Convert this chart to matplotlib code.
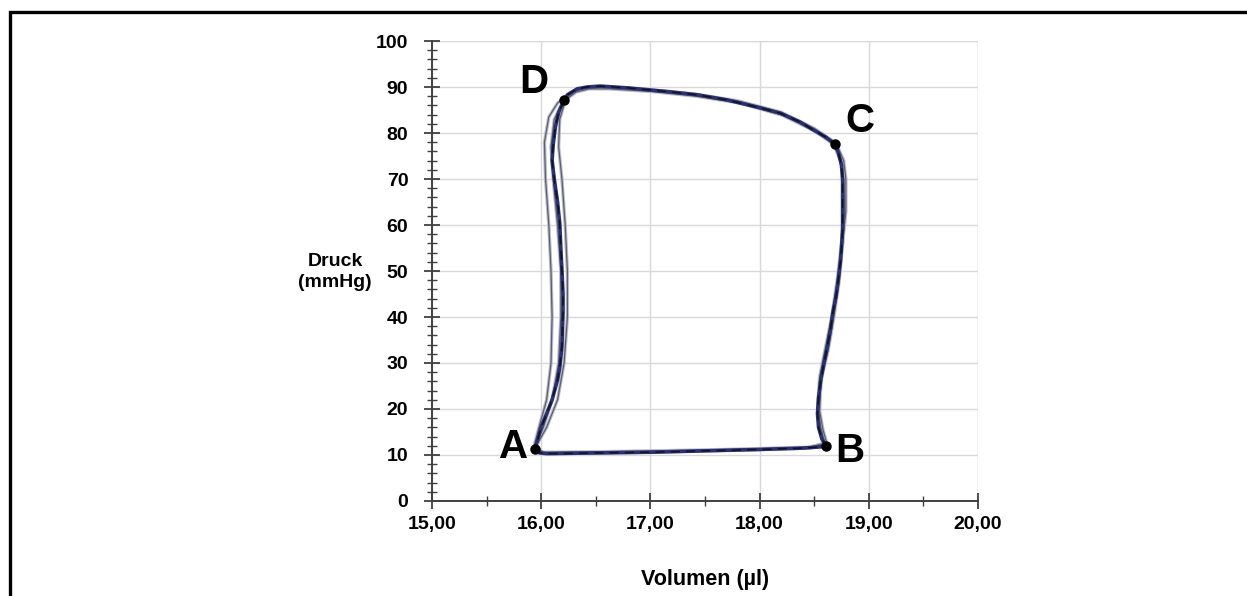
import matplotlib
matplotlib.use('Agg')
import matplotlib.pyplot as plt
from matplotlib.lines import Line2D
from matplotlib.ticker import MultipleLocator

plt.rcParams['font.family'] = ['Liberation Sans', 'DejaVu Sans']

# averaged loop (A -> B -> C -> D -> A)
mean_vol = [15.94, 15.98, 16.05, 16.50, 17.00, 17.50, 18.00, 18.40, 18.58, 18.61,
            18.57, 18.54, 18.53, 18.54, 18.56, 18.59, 18.62, 18.65, 18.67, 18.70,
            18.72, 18.74, 18.75, 18.76, 18.76, 18.76, 18.76, 18.75, 18.72, 18.69,
            18.60, 18.49, 18.37, 18.19, 18.00, 17.70, 17.43, 17.20, 17.02, 16.80,
            16.54, 16.42, 16.33, 16.24, 16.21, 16.16, 16.13, 16.11, 16.10, 16.12,
            16.15, 16.17, 16.18, 16.19, 16.20, 16.20, 16.19, 16.17, 16.15, 16.10,
            16.05, 16.00, 15.97, 15.94]
mean_p = [11.3, 10.5, 10.3, 10.45, 10.6, 10.9, 11.2, 11.5, 11.8, 12.0,
          13.5, 16.0, 19.0, 22.5, 26.3, 30.0, 33.5, 37.5, 40.9, 44.5,
          48.0, 52.0, 55.2, 59.0, 62.6, 66.5, 69.8, 73.0, 75.8, 77.6,
          79.2, 80.7, 82.4, 84.3, 85.5, 87.2, 88.3, 88.9, 89.3, 89.8,
          90.2, 90.0, 89.6, 88.3, 87.2, 84.5, 81.3, 77.5, 74.1, 70.0,
          65.0, 60.4, 55.0, 50.2, 45.0, 40.9, 33.5, 29.0, 26.3, 22.0,
          19.0, 16.1, 13.5, 11.3]

# single cycles
cyc1_vol = [15.93, 16.00, 16.50, 17.00, 17.50, 18.00, 18.45, 18.58, 18.55, 18.53,
            18.55, 18.60, 18.66, 18.71, 18.75, 18.77, 18.77, 18.74, 18.68, 18.50,
            18.20, 17.80, 17.40, 17.00, 16.60, 16.40, 16.27, 16.15, 16.07, 16.03,
            16.04, 16.07, 16.09, 16.10, 16.09, 16.05, 15.98, 15.93]
cyc1_p = [11.5, 10.4, 10.5, 10.7, 11.0, 11.3, 11.6, 12.5, 16.0, 20.0,
          27.0, 33.0, 40.0, 48.0, 56.0, 63.0, 70.0, 74.0, 77.5, 80.5,
          84.0, 86.8, 88.2, 89.2, 89.9, 89.8, 88.8, 86.5, 83.5, 78.0,
          70.0, 60.0, 50.0, 40.0, 30.0, 22.0, 16.0, 11.5]

cyc2_vol = [15.95, 16.02, 16.50, 17.00, 17.50, 18.00, 18.45, 18.60, 18.56, 18.54,
            18.57, 18.63, 18.68, 18.73, 18.76, 18.78, 18.77, 18.75, 18.70, 18.50,
            18.20, 17.80, 17.40, 17.00, 16.60, 16.42, 16.30, 16.22, 16.17, 16.16,
            16.19, 16.22, 16.24, 16.24, 16.21, 16.15, 16.05, 15.95]
cyc2_p = [11.8, 10.6, 10.7, 10.9, 11.1, 11.4, 11.7, 12.4, 16.0, 20.0,
          27.0, 33.0, 40.0, 48.0, 56.0, 63.0, 70.0, 74.0, 77.8, 81.0,
          84.5, 87.0, 88.5, 89.4, 90.0, 89.9, 89.0, 87.0, 83.0, 77.0,
          70.0, 60.0, 50.0, 40.0, 30.0, 22.0, 16.0, 11.8]

cyc3_vol = [15.94, 16.00, 16.50, 17.00, 17.50, 18.00, 18.45, 18.62, 18.58, 18.55,
            18.56, 18.61, 18.67, 18.72, 18.76, 18.79, 18.79, 18.77, 18.71, 18.52,
            18.22, 17.82, 17.42, 17.02, 16.62, 16.44, 16.32, 16.20, 16.12, 16.09,
            16.11, 16.15, 16.18, 16.18, 16.16, 16.10, 16.02, 15.94]
cyc3_p = [11.2, 10.3, 10.4, 10.6, 10.9, 11.2, 11.5, 12.2, 15.5, 19.5,
          26.5, 33.0, 40.0, 48.0, 56.0, 63.0, 70.0, 74.0, 77.3, 80.3,
          83.8, 86.5, 88.0, 89.0, 89.6, 89.6, 88.9, 86.8, 83.0, 77.0,
          70.0, 60.0, 50.0, 40.0, 30.0, 22.0, 16.0, 11.2]

# corner points of the loop
pt_names = ['A', 'B', 'C', 'D']
pt_vol = [15.94, 18.61, 18.69, 16.21]
pt_p = [11.3, 12.0, 77.6, 87.2]
lbl_vol = [15.75, 18.83, 18.92, 15.93]
lbl_p = [11.7, 10.9, 82.6, 91.1]

xticks = [15, 16, 17, 18, 19, 20]
xtick_labels = ['15,00', '16,00', '17,00', '18,00', '19,00', '20,00']
yticks = [0, 10, 20, 30, 40, 50, 60, 70, 80, 90, 100]

fig = plt.figure(figsize=(12.47, 5.96), dpi=100)
ax = fig.add_axes([0.3464, 0.1594, 0.4379, 0.7718])

for v, p in [(cyc1_vol, cyc1_p), (cyc2_vol, cyc2_p), (cyc3_vol, cyc3_p)]:
    ax.plot(v, p, color='#b8bccb', lw=2.4, zorder=2)
for v, p in [(cyc1_vol, cyc1_p), (cyc2_vol, cyc2_p), (cyc3_vol, cyc3_p)]:
    ax.plot(v, p, color='#5e5e6e', lw=0.9, zorder=3)
ax.plot(mean_vol, mean_p, color='#2a3170', lw=2.6, zorder=4)
ax.plot(mean_vol, mean_p, color='#111122', lw=1.1, dashes=(6, 4), zorder=5)
ax.plot(pt_vol, pt_p, 'o', color='black', ms=6.5, zorder=6)

for name, x, y in zip(pt_names, lbl_vol, lbl_p):
    ax.text(x, y, name, fontsize=29, fontweight='bold', ha='center', va='center',
            zorder=7)

ax.set_xlim(15, 20)
ax.set_ylim(0, 100)
ax.set_xticks(xticks)
ax.set_xticklabels(xtick_labels)
ax.set_yticks(yticks)
ax.xaxis.set_minor_locator(MultipleLocator(0.5))
ax.yaxis.set_minor_locator(MultipleLocator(2))

ax.grid(True, which='major', color='#d9d9d9', lw=1.0, zorder=0)
ax.set_axisbelow(True)
for s in ['top', 'right']:
    ax.spines[s].set_visible(False)
for s in ['left', 'bottom']:
    ax.spines[s].set_color('#404040')
    ax.spines[s].set_linewidth(1.4)
ax.axhline(100, color='#d9d9d9', lw=1.0, zorder=0)
ax.axvline(20, color='#d9d9d9', lw=1.0, zorder=0)

ax.tick_params(which='major', direction='inout', length=12, width=1.3, color='#404040',
               labelsize=14)
ax.tick_params(which='minor', direction='inout', length=7, width=1.0, color='#404040')
ax.tick_params(axis='y', which='major', pad=11)
ax.tick_params(axis='x', which='major', pad=5)
for lab in ax.get_xticklabels() + ax.get_yticklabels():
    lab.set_fontweight('bold')

fig.text(0.2686, 0.5436, 'Druck\n(mmHg)', fontsize=14, fontweight='bold',
         ha='center', va='center', linespacing=1.3)
fig.text(0.5654, 0.027, 'Volumen (µl)', fontsize=15.5, fontweight='bold',
         ha='center', va='center')

# frame cut at the right and bottom edge
fig.add_artist(Line2D([9.5 / 1247, 9.5 / 1247, 1.0], [0.0, 1 - 11.5 / 596, 1 - 11.5 / 596],
                      transform=fig.transFigure, color='black', lw=2.4,
                      solid_joinstyle='miter'))

fig.savefig('out.png', dpi=100)
